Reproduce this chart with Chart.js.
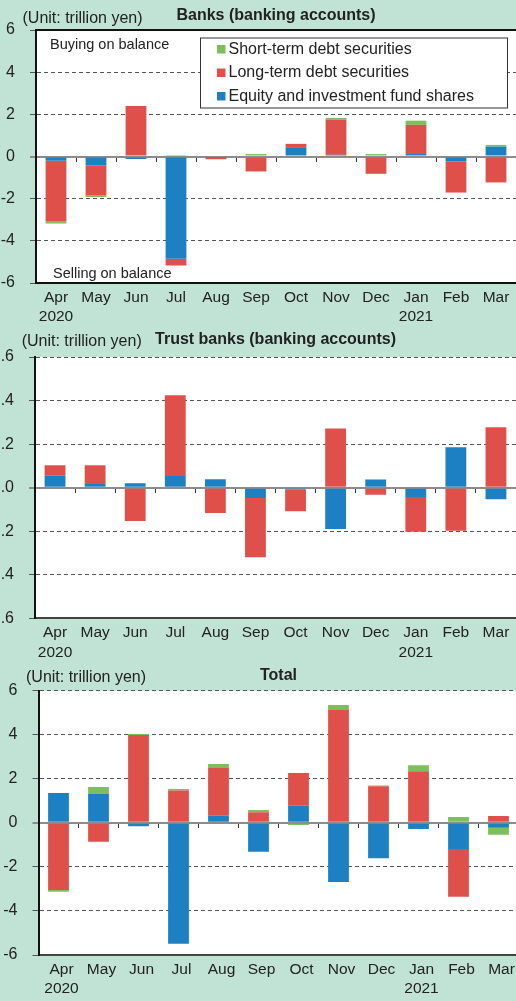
<!DOCTYPE html>
<html>
<head>
<meta charset="utf-8">
<script src="https://cdn.jsdelivr.net/npm/chart.js@4.4.1/dist/chart.umd.min.js"></script>
<style>
  html, body { margin: 0; padding: 0; }
  body { width: 516px; height: 1001px; background: #c0e3d6; position: relative; overflow: hidden; }
  .panel { position: absolute; }
</style>
</head>
<body>
<div class="panel" style="left:0;top:0;width:516px;height:330px"><canvas id="banks"></canvas></div>
<div class="panel" style="left:-20px;top:324px;width:536px;height:336px"><canvas id="trust"></canvas></div>
<div class="panel" style="left:0;top:660px;width:525px;height:341px"><canvas id="total"></canvas></div>
<script>
// months, fiscal 2020
const months = [['Apr', '2020'], 'May', 'Jun', 'Jul', 'Aug', 'Sep', 'Oct', 'Nov', 'Dec', ['Jan', '2021'], 'Feb', 'Mar'];
const seriesNames = ['Short-term debt securities', 'Long-term debt securities', 'Equity and investment fund shares'];
const seriesColors = ['#7dbf5c', '#e0504b', '#1d80c3'];
const unitText = '(Unit: trillion yen)';

// Banks (banking accounts), trillion yen
const banksEquity = [-0.2, -0.43, -0.12, -4.85, -0.03, 0, 0.44, 0.08, 0, 0.16, -0.24, 0.47];
const banksLong = [-2.88, -1.42, 2.4, -0.32, -0.1, -0.71, 0.16, 1.66, -0.82, 1.34, -1.47, -1.23];
const banksShort = [-0.1, -0.07, 0, 0.02, 0, 0.12, -0.05, 0.09, 0.12, 0.2, 0, 0.08];
const banksTicks = [-6, 6, 2];

// Trust banks (banking accounts)
const trustEquity = [0.055, 0.017, 0.02, 0.054, 0.039, -0.047, -0.008, -0.19, 0.038, -0.043, 0.185, -0.053];
const trustLong = [0.048, 0.086, -0.153, 0.37, -0.116, -0.273, -0.1, 0.272, -0.033, -0.16, -0.198, 0.277];
const trustShort = [0, 0, 0, 0, 0, 0, 0, 0, 0, 0, 0, 0];
const trustTicks = [-0.6, 0.6, 0.2];

// Total
const totalEquity = [1.35, 1.31, -0.15, -5.49, 0.32, -1.31, 0.78, -2.69, -1.61, -0.28, -1.19, -0.22];
const totalLong = [-3.05, -0.86, 3.99, 1.47, 2.17, 0.48, 1.48, 5.12, 1.66, 2.34, -2.16, 0.31];
const totalShort = [-0.08, 0.32, 0.04, 0.07, 0.18, 0.1, -0.1, 0.23, 0.04, 0.27, 0.26, -0.32];
const totalTicks = [-6, 6, 2];

Chart.defaults.font.family = '"Liberation Sans", Arial, sans-serif';
Chart.defaults.color = '#222';

const isZero = ctx => ctx.tick && Math.abs(ctx.tick.value) < 1e-9;

const panelDecor = {
  id: 'panelDecor',
  beforeDraw(chart) {
    const { ctx, chartArea: a } = chart;
    ctx.save();
    ctx.fillStyle = '#fff';
    ctx.fillRect(a.left, a.top, a.right - a.left, a.bottom - a.top);
    ctx.restore();
  },
  afterDraw(chart, args, o) {
    const { ctx, chartArea: a } = chart;
    ctx.save();
    ctx.fillStyle = '#222';
    ctx.textBaseline = 'middle';
    ctx.textAlign = 'left';
    ctx.font = '16px "Liberation Sans", Arial, sans-serif';
    ctx.fillText(unitText, o.unitX, o.unitY);

    if (o.topLine) {
      ctx.strokeStyle = '#111';
      ctx.lineWidth = 2;
      ctx.beginPath();
      ctx.moveTo(a.left, a.top);
      ctx.lineTo(a.right, a.top);
      ctx.stroke();
    }
    if (o.notes) {
      ctx.font = '14.5px "Liberation Sans", Arial, sans-serif';
      ctx.fillText('Buying on balance', a.left + 14, a.top + 15);
      ctx.fillText('Selling on balance', a.left + 17, a.bottom - 9);
    }
    if (o.legend) {
      // legend box in the upper right of the plot
      const x = 200.5, y = 38, w = 307, h = 70;
      ctx.fillStyle = '#fff';
      ctx.fillRect(x, y, w, h);
      ctx.strokeStyle = '#333';
      ctx.lineWidth = 1;
      ctx.strokeRect(x, y, w, h);
      ctx.font = '16px "Liberation Sans", Arial, sans-serif';
      seriesNames.forEach((name, i) => {
        const cy = 49 + i * 23.5;
        ctx.fillStyle = seriesColors[i];
        ctx.fillRect(217, cy - 4, 8.5, 8.5);
        ctx.fillStyle = '#222';
        ctx.fillText(name, 228.5, cy + 0.5);
      });
    }
    ctx.restore();
  }
};

function buildChart(id, p) {
  return new Chart(document.getElementById(id), {
    type: 'bar',
    data: {
      labels: months,
      datasets: [
        { label: seriesNames[2], data: p.equity, backgroundColor: seriesColors[2], xAxisID: 'x', yAxisID: 'y' },
        { label: seriesNames[1], data: p.long, backgroundColor: seriesColors[1], xAxisID: 'x', yAxisID: 'y' },
        { label: seriesNames[0], data: p.short, backgroundColor: seriesColors[0], xAxisID: 'x', yAxisID: 'y' }
      ]
    },
    options: {
      responsive: true,
      maintainAspectRatio: false,
      animation: false,
      devicePixelRatio: 1,
      layout: { padding: { left: 0, right: p.padRight, top: 0, bottom: 0 } },
      datasets: { bar: { barPercentage: 0.52, categoryPercentage: 1, borderWidth: 0 } },
      plugins: {
        legend: { display: false },
        tooltip: { enabled: false },
        title: {
          display: true,
          text: p.title,
          fullSize: false,
          color: '#222',
          font: { size: 16, weight: 'bold', lineHeight: 1.2 },
          padding: { top: 6, bottom: p.top - 25.2 }
        },
        panelDecor: { unitX: p.unitX, unitY: p.unitY, legend: p.legend, notes: p.legend, topLine: p.legend }
      },
      scales: {
        x: {
          stacked: true,
          offset: true,
          grid: { display: false, drawTicks: false, offset: true },
          border: { display: true, color: p.bottomColor, width: 2 },
          ticks: { color: '#222', font: { size: 15.5, lineHeight: 1.25 }, padding: 5, maxRotation: 0, autoSkip: false, labelOffset: p.labelShift },
          afterFit: s => { s.height = p.height - p.bottom; }
        },
        x2: {
          axis: 'x',
          type: 'category',
          position: { y: 0 },
          offset: true,
          grid: { drawOnChartArea: false, drawTicks: true, tickLength: 4, offset: true, color: '#333' },
          border: { display: true, color: '#8c8c8c', width: 2 },
          ticks: { display: false }
        },
        y: {
          stacked: true,
          min: p.ticks[0],
          max: p.ticks[1],
          ticks: {
            stepSize: p.ticks[2],
            padding: 15,
            color: '#222',
            font: { size: 16 },
            callback: v => p.decimals ? v.toFixed(p.decimals) : String(Math.round(v))
          },
          grid: {
            color: ctx => isZero(ctx) ? '#8c8c8c' : '#555',
            lineWidth: ctx => isZero(ctx) ? 2 : 1,
            drawTicks: true,
            tickLength: 6
          },
          border: { display: true, color: '#111', width: 2, dash: ctx => isZero(ctx) ? [] : [4, 3] },
          afterFit: s => { s.width = p.axisLeft; }
        }
      }
    },
    plugins: [panelDecor]
  });
}

buildChart('banks', {
  title: 'Banks (banking accounts)', equity: banksEquity, long: banksLong, short: banksShort, ticks: banksTicks,
  decimals: 0, axisLeft: 36, padRight: 0, top: 30, bottom: 283, height: 330, labelShift: 0,
  unitX: 22.5, unitY: 18.5, legend: true, bottomColor: '#111'
});
buildChart('trust', {
  title: 'Trust banks (banking accounts)', equity: trustEquity, long: trustLong, short: trustShort, ticks: trustTicks,
  decimals: 1, axisLeft: 55, padRight: 0, top: 33, bottom: 294.3, height: 336, labelShift: 0,
  unitX: 41.7, unitY: 17.5, legend: false, bottomColor: '#444'
});
buildChart('total', {
  title: 'Total', equity: totalEquity, long: totalLong, short: totalShort, ticks: totalTicks,
  decimals: 0, axisLeft: 38.5, padRight: 6.5, top: 30.7, bottom: 295, height: 341, labelShift: 3,
  unitX: 26, unitY: 17.5, legend: false, bottomColor: '#444'
});
</script>
</body>
</html>
